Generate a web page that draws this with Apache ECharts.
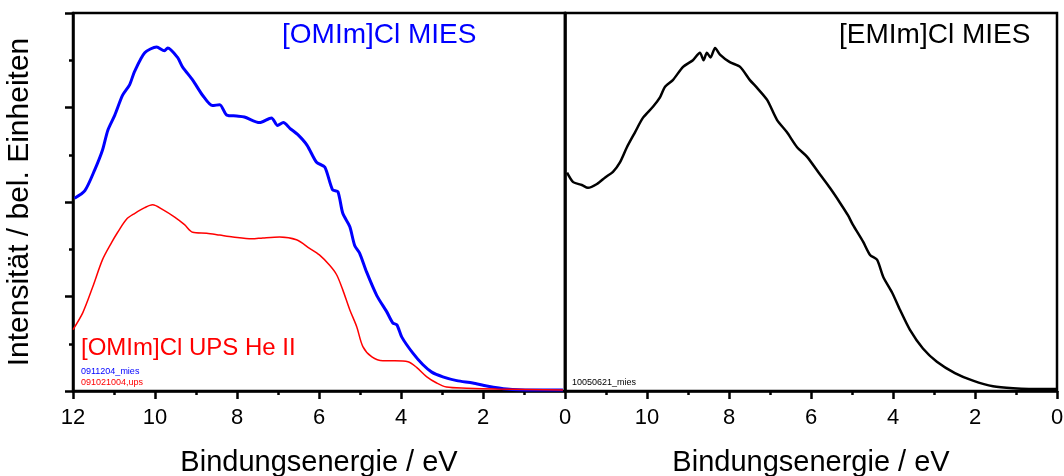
<!DOCTYPE html>
<html>
<head>
<meta charset="utf-8">
<script src="https://cdn.jsdelivr.net/npm/echarts@6/dist/echarts.min.js"></script>
<style>html,body{margin:0;padding:0;background:#fff}#c{width:1064px;height:476px}</style>
</head>
<body>
<div id="c"></div>
<script>
// Binding energy (eV) and intensity (arb. units)
const blueE = [11.96,11.71,11.47,11.28,11.15,10.98,10.79,10.62,10.50,10.25,9.96,9.77,9.69,9.45,9.33,9.08,8.84,8.60,8.42,8.25,8.01,7.82,7.45,7.16,7.01,6.87,6.71,6.51,6.29,6.06,5.86,5.67,5.54,5.42,5.25,5.13,5.01,4.84,4.59,4.35,4.20,4.10,3.98,3.71,3.47,3.25,2.98,2.64,2.25,1.91,1.42,0.79,0.05];
const blueV = [2.04,2.12,2.34,2.55,2.76,2.92,3.13,3.24,3.38,3.58,3.64,3.60,3.63,3.53,3.43,3.29,3.13,3.02,3.03,2.92,2.91,2.90,2.84,2.89,2.81,2.84,2.78,2.71,2.60,2.42,2.37,2.13,2.11,1.88,1.74,1.54,1.46,1.26,1.01,0.84,0.72,0.70,0.57,0.40,0.28,0.20,0.15,0.11,0.085,0.053,0.02,0.01,0.01];

const redE = [12.0,11.76,11.52,11.28,11.06,10.91,10.69,10.49,10.25,10.06,9.81,9.52,9.28,9.08,8.74,8.42,8.10,7.64,7.37,6.96,6.55,6.23,5.99,5.74,5.57,5.42,5.25,5.08,4.93,4.71,4.44,4.15,3.83,3.62,3.37,3.13,2.89,2.40,1.67,0.05];
const redV = [0.65,0.83,1.10,1.39,1.57,1.68,1.82,1.88,1.94,1.97,1.92,1.84,1.76,1.68,1.67,1.65,1.63,1.61,1.62,1.63,1.60,1.51,1.44,1.33,1.23,1.07,0.86,0.68,0.47,0.36,0.32,0.32,0.31,0.25,0.15,0.085,0.042,0.03,0.02,0.01];

const blackE = [11.95,11.80,11.59,11.44,11.22,11.02,10.83,10.66,10.49,10.29,10.10,9.85,9.68,9.56,9.37,9.12,8.88,8.71,8.62,8.54,8.45,8.34,8.22,7.98,7.73,7.49,7.32,7.07,6.83,6.59,6.34,6.10,5.78,5.54,5.29,5.10,4.98,4.73,4.56,4.39,4.24,4.02,3.83,3.59,3.27,2.93,2.49,2.05,1.56,1.07,0.34,0.0];
const blackV = [2.31,2.21,2.18,2.15,2.19,2.26,2.32,2.42,2.58,2.74,2.89,3.01,3.11,3.22,3.29,3.43,3.50,3.58,3.50,3.58,3.53,3.63,3.56,3.48,3.43,3.29,3.21,3.08,2.87,2.74,2.58,2.48,2.29,2.15,1.99,1.86,1.76,1.58,1.44,1.39,1.21,1.04,0.86,0.65,0.45,0.31,0.19,0.11,0.05,0.03,0.02,0.02];

const xTitle = 'Bindungsenergie / eV';
const yTitle = 'Intensität / bel. Einheiten';

const pairs = (e, v) => e.map((x, i) => [x, v[i]]);
const FONT = "'Liberation Sans', Arial, sans-serif";

function xAxisCfg(gridIndex, hideMax) {
  return {
    gridIndex, type: 'value', min: 0, max: 12, interval: 2, inverse: true,
    axisLine: { show: true, onZero: false, lineStyle: { color: '#000', width: 2.5 } },
    axisTick: { show: true, length: 8, lineStyle: { color: '#000', width: 2.5 } },
    minorTick: { show: true, splitNumber: 2, length: 4, lineStyle: { color: '#000', width: 2.5 } },
    splitLine: { show: false },
    axisLabel: {
      color: '#000', fontSize: 22, fontFamily: FONT, margin: 16,
      formatter: v => (hideMax && v === 12) ? '' : String(v)
    },
    name: xTitle, nameLocation: 'middle', nameGap: 57,
    nameTextStyle: { color: '#000', fontSize: 29, fontFamily: FONT }
  };
}

const chart = echarts.init(document.getElementById('c'), null, { renderer: 'canvas' });
chart.setOption({
  animation: false,
  backgroundColor: '#fff',
  grid: [
    { left: 73, right: 499, top: 13, bottom: 85, show: true, borderColor: '#000', borderWidth: 2.5, backgroundColor: 'transparent', containLabel: false, outerBoundsMode: 'none' },
    { left: 565, right: 7, top: 13, bottom: 85, show: true, borderColor: '#000', borderWidth: 2.5, backgroundColor: 'transparent', containLabel: false, outerBoundsMode: 'none' }
  ],
  xAxis: [xAxisCfg(0, false), xAxisCfg(1, true)],
  yAxis: [
    {
      gridIndex: 0, type: 'value', min: 0, max: 4, interval: 1, position: 'left',
      axisLine: { show: true, onZero: false, lineStyle: { color: '#000', width: 2.5 } },
      axisTick: { show: true, length: 8, lineStyle: { color: '#000', width: 2.5 } },
      minorTick: { show: true, splitNumber: 2, length: 4, lineStyle: { color: '#000', width: 2.5 } },
      splitLine: { show: false },
      axisLabel: { show: false },
      name: yTitle, nameLocation: 'middle', nameGap: 38,
      nameTextStyle: { color: '#000', fontSize: 30, fontFamily: FONT }
    },
    {
      gridIndex: 1, type: 'value', min: 0, max: 4, interval: 1, position: 'left',
      axisLine: { show: true, onZero: false, lineStyle: { color: '#000', width: 2.5 } },
      axisTick: { show: false }, minorTick: { show: false }, splitLine: { show: false }, axisLabel: { show: false }
    }
  ],
  series: [
    { type: 'line', xAxisIndex: 0, yAxisIndex: 0, data: pairs(blueE, blueV), showSymbol: false, symbol: 'none', smooth: 0.25,
      lineStyle: { color: '#0000ff', width: 3 }, z: 3 },
    { type: 'line', xAxisIndex: 0, yAxisIndex: 0, data: pairs(redE, redV), showSymbol: false, symbol: 'none', smooth: 0.3,
      lineStyle: { color: '#ff0000', width: 1.5 }, z: 4 },
    { type: 'line', xAxisIndex: 1, yAxisIndex: 1, data: pairs(blackE, blackV), showSymbol: false, symbol: 'none', smooth: 0.25,
      lineStyle: { color: '#000', width: 2.5 }, z: 3 }
  ],
  graphic: [
    { type: 'text', left: 282, top: 21, style: { text: '[OMIm]Cl MIES', fill: '#0000ff', font: '28px ' + FONT } },
    { type: 'text', left: 839, top: 21, style: { text: '[EMIm]Cl MIES', fill: '#000', font: '28px ' + FONT } },
    { type: 'text', left: 81, top: 336, style: { text: '[OMIm]Cl UPS He II', fill: '#ff0000', font: '24px ' + FONT } },
    { type: 'text', left: 81, top: 367, style: { text: '0911204_mies', fill: '#0000ff', font: '9px ' + FONT } },
    { type: 'text', left: 81, top: 378, style: { text: '091021004,ups', fill: '#ff0000', font: '9px ' + FONT } },
    { type: 'text', left: 572, top: 378, style: { text: '10050621_mies', fill: '#000', font: '9px ' + FONT } }
  ]
});
</script>
</body>
</html>
